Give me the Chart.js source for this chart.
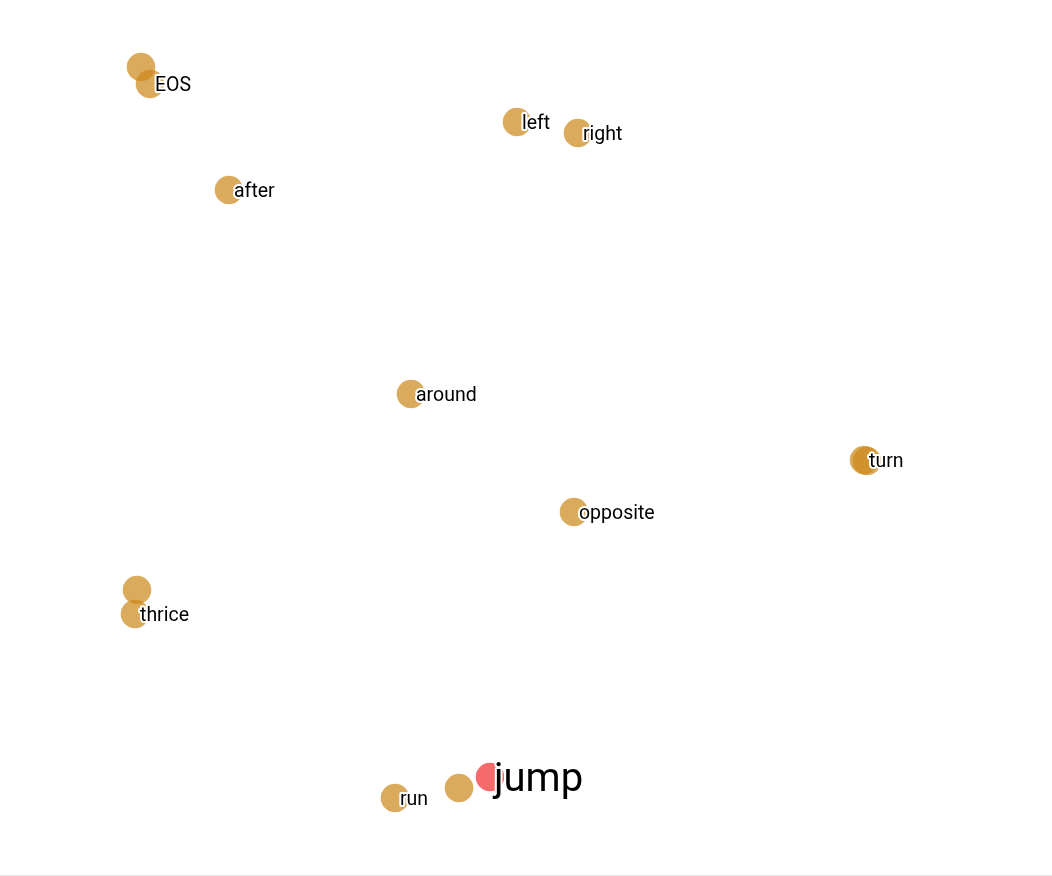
<!DOCTYPE html>
<html>
<head>
<meta charset="utf-8">
<script src="https://cdn.jsdelivr.net/npm/chart.js@4/dist/chart.umd.min.js"></script>
<style>
  html, body { margin: 0; padding: 0; background: #fff; }
  #wrap { width: 1052px; height: 875px; border-bottom: 1px solid #e6e6e6; }
  canvas { display: block; }
</style>
</head>
<body>
<div id="wrap"><canvas id="c" width="1052" height="875"></canvas></div>
<script>
// Word embedding projection (2-D) values
const words = ['', 'EOS', 'left', 'right', 'after', 'around', 'turn', '', 'opposite', '', 'thrice', 'run', '', 'jump'];
const xValues = [-38.5, -37.6, -0.9, 5.2, -29.7, -11.5, 33.8, 34.1, 4.8, -38.9, -39.1, -13.1, -6.7, -3.6];
const yValues = [37.1, 35.4, 31.6, 30.5, 24.8, 4.4, -2.2, -2.3, -7.4, -15.2, -17.6, -36.0, -35.0, -33.9];
const highlightWord = 'jump';

const points = xValues.map((x, i) => ({ x: x, y: yValues[i], word: words[i] }));

const GOLD = 'rgba(204,136,24,0.7)';
const RED = 'rgba(246,98,100,0.95)';

const labelPlugin = {
  id: 'wordLabels',
  afterDatasetsDraw(chart) {
    const ctx = chart.ctx;
    const meta = chart.getDatasetMeta(0);
    ctx.save();
    ctx.textBaseline = 'middle';
    ctx.textAlign = 'left';
    ctx.lineJoin = 'round';
    meta.data.forEach((el, i) => {
      const w = points[i].word;
      if (!w) return;
      const big = w === highlightWord;
      ctx.font = (big ? '40px' : '19.5px') + ' Roboto, "Noto Sans", sans-serif';
      const tx = el.x + (big ? 4 : 5), ty = el.y + (big ? 4 : 2);
      ctx.strokeStyle = '#ffffff';
      ctx.lineWidth = 4;
      ctx.strokeText(w, tx, ty);
      ctx.fillStyle = '#000000';
      ctx.fillText(w, tx, ty);
    });
    ctx.restore();
  }
};

new Chart(document.getElementById('c'), {
  type: 'scatter',
  data: {
    datasets: [{
      data: points,
      pointRadius: 14.3,
      pointHoverRadius: 14.3,
      pointBorderWidth: 0,
      backgroundColor: (c) => (points[c.dataIndex] && points[c.dataIndex].word === highlightWord) ? RED : GOLD,
      borderColor: 'rgba(0,0,0,0)'
    }]
  },
  options: {
    responsive: false,
    animation: false,
    events: [],
    layout: { padding: 0, autoPadding: false },
    plugins: { legend: { display: false }, tooltip: { enabled: false } },
    scales: {
      x: { type: 'linear', display: false, min: -52.6, max: 52.6 },
      y: { type: 'linear', display: false, min: -43.7, max: 43.8 }
    }
  },
  plugins: [labelPlugin]
});
</script>
</body>
</html>
